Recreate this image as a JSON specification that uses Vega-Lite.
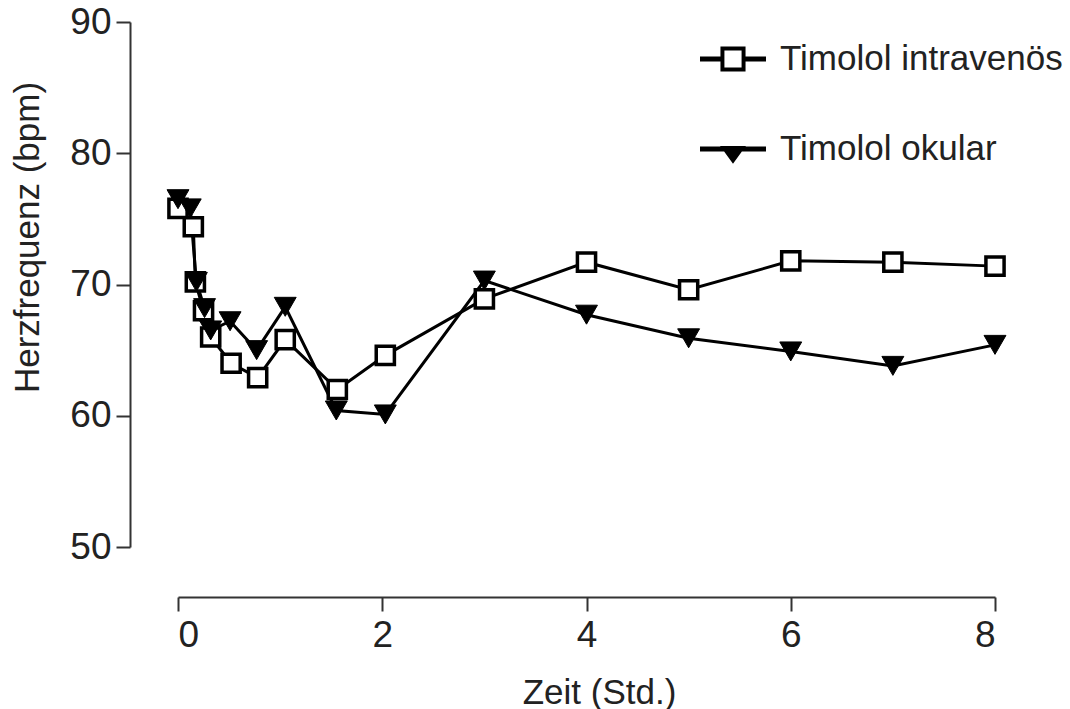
{
  "$schema": "https://vega.github.io/schema/vega-lite/v6.json",
  "width": 817,
  "height": 525,
  "autosize": {"type": "none"},
  "padding": {"left": 178, "top": 22, "right": 75, "bottom": 162},
  "background": "white",
  "config": {
    "view": {"stroke": null},
    "font": "Liberation Sans",
    "axis": {
      "grid": false,
      "domainColor": "#333333",
      "domainWidth": 2,
      "tickColor": "#333333",
      "tickWidth": 2,
      "labelFont": "Liberation Sans",
      "labelFontSize": 37,
      "labelColor": "#222222",
      "titleFont": "Liberation Sans",
      "titleFontSize": 35,
      "titleFontWeight": "normal",
      "titleColor": "#222222"
    }
  },
  "data": {
    "values": [
      {"series": "Timolol intravenös", "t": 0, "hr": 75.8},
      {"series": "Timolol intravenös", "t": 0.15, "hr": 74.4},
      {"series": "Timolol intravenös", "t": 0.17, "hr": 70.2},
      {"series": "Timolol intravenös", "t": 0.25, "hr": 68.0},
      {"series": "Timolol intravenös", "t": 0.32, "hr": 66.0},
      {"series": "Timolol intravenös", "t": 0.52, "hr": 64.0},
      {"series": "Timolol intravenös", "t": 0.78, "hr": 62.9},
      {"series": "Timolol intravenös", "t": 1.05, "hr": 65.8},
      {"series": "Timolol intravenös", "t": 1.56, "hr": 62.0},
      {"series": "Timolol intravenös", "t": 2.03, "hr": 64.6},
      {"series": "Timolol intravenös", "t": 3, "hr": 68.9},
      {"series": "Timolol intravenös", "t": 4, "hr": 71.7},
      {"series": "Timolol intravenös", "t": 5, "hr": 69.6},
      {"series": "Timolol intravenös", "t": 6, "hr": 71.8},
      {"series": "Timolol intravenös", "t": 7, "hr": 71.7},
      {"series": "Timolol intravenös", "t": 8, "hr": 71.4},
      {"series": "Timolol okular", "t": 0, "hr": 76.5},
      {"series": "Timolol okular", "t": 0.12, "hr": 75.8},
      {"series": "Timolol okular", "t": 0.18, "hr": 70.2},
      {"series": "Timolol okular", "t": 0.26, "hr": 68.2},
      {"series": "Timolol okular", "t": 0.32, "hr": 66.5},
      {"series": "Timolol okular", "t": 0.51, "hr": 67.2},
      {"series": "Timolol okular", "t": 0.77, "hr": 65.0},
      {"series": "Timolol okular", "t": 1.05, "hr": 68.3},
      {"series": "Timolol okular", "t": 1.55, "hr": 60.4},
      {"series": "Timolol okular", "t": 2.03, "hr": 60.1},
      {"series": "Timolol okular", "t": 3, "hr": 70.3},
      {"series": "Timolol okular", "t": 4, "hr": 67.7},
      {"series": "Timolol okular", "t": 5, "hr": 65.9},
      {"series": "Timolol okular", "t": 6, "hr": 64.9},
      {"series": "Timolol okular", "t": 7, "hr": 63.8},
      {"series": "Timolol okular", "t": 8, "hr": 65.4}
    ]
  },
  "encoding": {
    "x": {
      "field": "t",
      "type": "quantitative",
      "scale": {"domain": [0, 8], "nice": false, "zero": false},
      "axis": {
        "title": "Zeit (Std.)",
        "values": [0, 2, 4, 6, 8],
        "offset": 50,
        "tickSize": 14,
        "labelPadding": 6,
        "titlePadding": 22,
        "titleX": 421
      }
    },
    "y": {
      "field": "hr",
      "type": "quantitative",
      "scale": {"domain": [50, 90], "nice": false, "zero": false},
      "axis": {
        "title": "Herzfrequenz (bpm)",
        "values": [50, 60, 70, 80, 90],
        "offset": 48,
        "tickSize": 14,
        "labelPadding": 5,
        "titleY": 215,
        "titleX": -85
      }
    }
  },
  "layer": [
    {
      "mark": {"type": "line", "stroke": "black", "strokeWidth": 3},
      "encoding": {"detail": {"field": "series"}}
    },
    {
      "transform": [{"filter": "datum.series === 'Timolol intravenös'"}],
      "mark": {"type": "point", "shape": "square", "filled": true, "fill": "white", "stroke": "black", "strokeWidth": 3.5, "size": 330, "opacity": 1}
    },
    {
      "transform": [{"filter": "datum.series === 'Timolol okular'"}],
      "mark": {"type": "point", "shape": "triangle-down", "filled": true, "fill": "black", "stroke": "black", "strokeWidth": 1, "size": 480, "opacity": 1}
    },
    {
      "transform": [{"filter": "datum.t < 0"}],
      "mark": {"type": "point", "filled": true, "fill": "black", "strokeWidth": 0, "opacity": 1},
      "encoding": {
        "shape": {
          "field": "series",
          "type": "nominal",
          "scale": {
            "domain": ["Timolol intravenös", "Timolol okular"],
            "range": [
              "M-1,-0.076L-0.38,-0.076L-0.38,0.076L-1,0.076ZM0.38,-0.076L1,-0.076L1,0.076L0.38,0.076ZM-0.38,-0.38L0.38,-0.38L0.38,0.38L-0.38,0.38ZM-0.26,-0.26L-0.26,0.26L0.26,0.26L0.26,-0.26Z",
              "M-1,-0.076L1,-0.076L1,0.076L-1,0.076ZM-0.39,-0.09L0.39,-0.09L0,0.45Z"
            ]
          },
          "legend": {
            "title": null,
            "orient": "none",
            "legendX": 522,
            "legendY": 4,
            "direction": "vertical",
            "labelFont": "Liberation Sans",
            "labelFontSize": 35,
            "labelColor": "#222222",
            "labelOffset": 14,
            "labelLimit": 0,
            "rowPadding": 39,
            "symbolSize": 4356,
            "symbolStrokeWidth": 0,
            "symbolFillColor": "black",
            "symbolOpacity": 1
          }
        }
      }
    }
  ]
}
